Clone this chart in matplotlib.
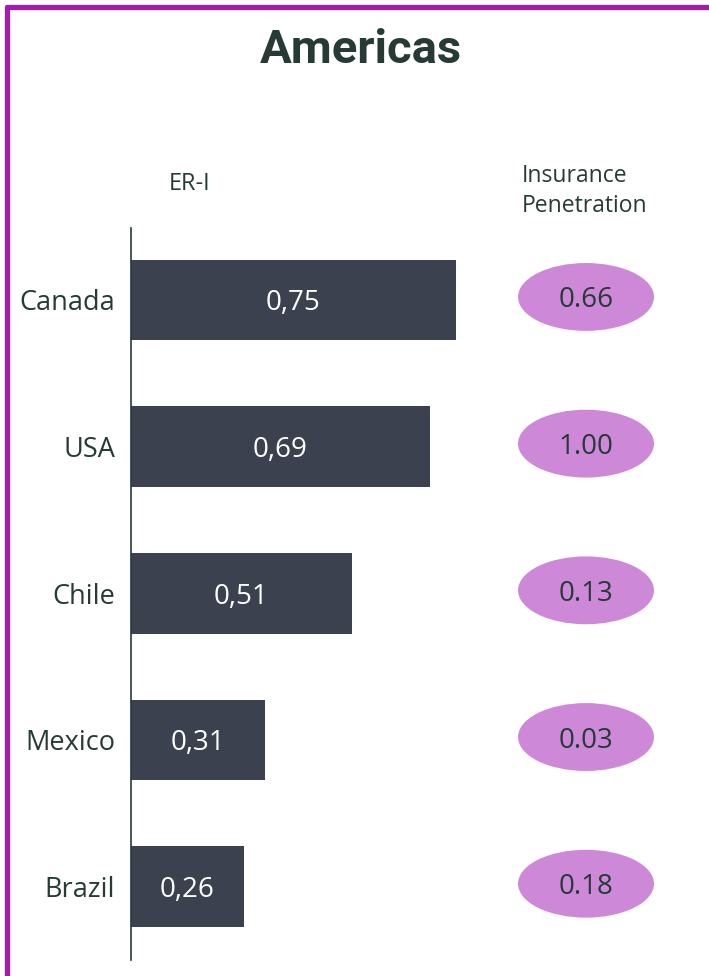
import matplotlib.pyplot as plt
from matplotlib.patches import Ellipse
from matplotlib.lines import Line2D

## Data
countries = ["Canada", "USA", "Chile", "Mexico", "Brazil"]
eri = [0.75, 0.69, 0.51, 0.31, 0.26]
penetration = [0.66, 1.00, 0.13, 0.03, 0.18]

## Styles
TEXT = "#263a36"
BAR = "#3c4150"
PINK = "#cd89d7"
PURPLE = "#a11db2"

plt.rcParams['font.family'] = ['Open Sans', 'DejaVu Sans']

W, H = 709, 976
fig = plt.figure(figsize=(W / 100, H / 100), dpi=100)

# axes: left edge on the vertical line, spans to right edge
ax = fig.add_axes([131 / W, 1 - 960 / H, 1 - 131 / W, (960 - 228) / H])
ypos = list(range(len(countries)))
ax.barh(ypos, eri, height=0.55, color=BAR)
ax.set_xlim(0, (W - 131) / 433)
ax.set_ylim(4.5, -0.49)

for y, v in zip(ypos, eri):
    ax.text(v / 2, y, f"{v:.2f}".replace(".", ","), color="white",
            ha="center", va="center_baseline", fontsize=20)

# insurance penetration ellipses
ex = (586 - 131) / 433
for y, p in zip(ypos, penetration):
    ax.add_patch(Ellipse((ex, y - 0.02), width=136 / 433, height=68 / 147,
                         color=PINK, lw=0))
    ax.text(ex, y - 0.02, f"{p:.2f}", color=TEXT, ha="center",
            va="center_baseline", fontsize=20)

ax.set_yticks(ypos)
ax.set_yticklabels(countries, fontsize=19.5, color=TEXT, va="center_baseline")
ax.tick_params(axis="y", length=0, pad=11.5)
ax.set_xticks([])
for s in ["top", "right", "bottom"]:
    ax.spines[s].set_visible(False)
ax.spines["left"].set_color(TEXT)
ax.spines["left"].set_linewidth(1.2)

# headers
fig.text(190 / W, 1 - 184 / H, "ER-I", ha="center", va="center",
         fontsize=17, color=TEXT)
fig.text(522 / W, 1 - 191 / H, "Insurance\nPenetration", ha="left",
         va="center", fontsize=16.5, color=TEXT, linespacing=1.3)
fig.text(361 / W, 1 - 50 / H, "Americas", ha="center", va="center",
         fontsize=34, fontweight="bold", color=TEXT, family="Roboto")

# frame lines (top and left)
fig.add_artist(Line2D([6.5 / W, 1.0], [1 - 6.5 / H, 1 - 6.5 / H],
                      color=PURPLE, lw=3.8, solid_capstyle="round"))
fig.add_artist(Line2D([6.5 / W, 6.5 / W], [1 - 6.5 / H, 0.0],
                      color=PURPLE, lw=3.8, solid_capstyle="round"))

fig.savefig("out.png", dpi=100)
